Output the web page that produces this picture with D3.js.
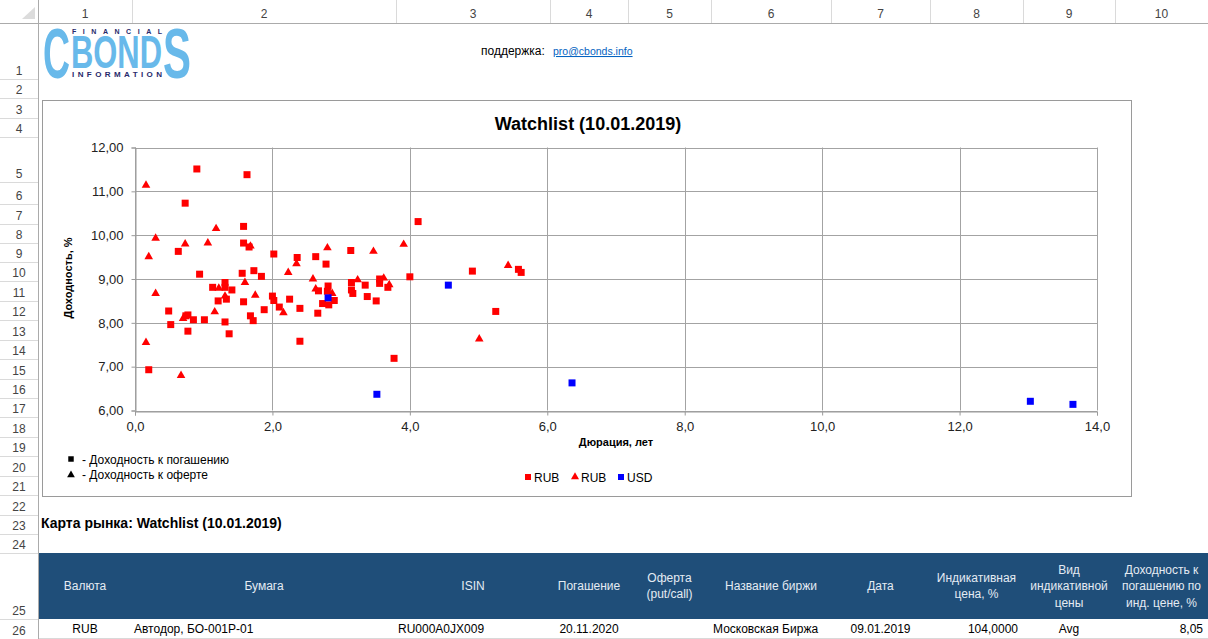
<!DOCTYPE html>
<html>
<head>
<meta charset="utf-8">
<script src="https://cdn.jsdelivr.net/npm/d3@7"></script>
<style>
  body { margin: 0; background: #fff; }
  svg text { font-family: "Liberation Sans", Arial, sans-serif; }
</style>
</head>
<body>
<script>
// chart data: [duration, yield]
var rubMaturity = [
  [0.90, 11.51], [1.63, 11.38], [0.73, 10.73], [1.58, 10.20], [1.58, 9.82],
  [1.66, 9.73], [0.63, 9.63], [2.02, 9.57], [2.36, 9.49], [2.63, 9.51],
  [2.78, 9.34], [0.94, 9.11], [1.56, 9.13], [1.73, 9.19], [1.84, 9.06],
  [1.13, 8.81], [1.31, 8.92], [1.31, 8.81], [1.41, 8.75], [1.21, 8.50],
  [1.33, 8.54], [1.58, 8.48], [2.00, 8.61], [2.02, 8.51], [2.10, 8.36],
  [2.25, 8.54], [2.40, 8.33], [1.88, 8.30], [1.68, 8.16], [1.72, 8.05],
  [2.67, 8.73], [2.81, 8.84], [2.80, 8.72], [2.90, 8.51], [2.73, 8.44],
  [2.82, 8.41], [2.66, 8.22], [0.49, 8.27], [0.52, 7.96], [0.74, 8.16],
  [0.77, 8.18], [0.85, 8.07], [1.01, 8.07], [0.77, 7.81], [1.31, 8.02],
  [1.37, 7.75], [0.20, 6.93], [2.40, 7.58], [3.14, 9.65], [4.12, 10.31],
  [4.91, 9.18], [5.58, 9.22], [5.62, 9.15], [4.00, 9.05], [3.15, 8.92],
  [3.56, 9.00], [3.56, 8.90], [3.35, 8.86], [3.68, 8.81], [3.15, 8.75],
  [3.17, 8.67], [3.38, 8.60], [3.51, 8.50], [3.77, 7.19], [5.25, 8.26]
];
var rubOffer = [
  [0.16, 11.14], [1.18, 10.15], [0.30, 9.93], [0.73, 9.80], [1.06, 9.82],
  [1.68, 9.75], [0.20, 9.51], [2.35, 9.35], [2.80, 9.71], [2.23, 9.15],
  [2.59, 9.00], [0.30, 8.67], [1.22, 8.79], [1.60, 8.92], [1.31, 8.61],
  [1.75, 8.63], [2.16, 8.23], [2.63, 8.77], [2.87, 8.67], [1.16, 8.25],
  [0.70, 8.10], [0.16, 7.55], [0.67, 6.80], [3.47, 9.63], [3.91, 9.79],
  [5.43, 9.31], [3.24, 8.98], [3.62, 9.02], [3.70, 8.87], [5.01, 7.63]
];
var usdMaturity = [
  [2.81, 8.57], [4.56, 8.86], [3.52, 6.37], [6.36, 6.63], [13.03, 6.21], [13.65, 6.14]
];
var xTicks = [0, 2, 4, 6, 8, 10, 12, 14];
var yTicks = [6, 7, 8, 9, 10, 11, 12];

// sheet data
var colLabels = ["1", "2", "3", "4", "5", "6", "7", "8", "9", "10"];
var rowLabels = ["1", "2", "3", "4", "5", "6", "7", "8", "9", "10", "11", "12", "13",
  "14", "15", "16", "17", "18", "19", "20", "21", "22", "23", "24", "25", "26"];
var tableHeaders = [
  ["Валюта"], ["Бумага"], ["ISIN"], ["Погашение"], ["Оферта", "(put/call)"],
  ["Название биржи"], ["Дата"], ["Индикативная", "цена, %"],
  ["Вид", "индикативной", "цены"], ["Доходность к", "погашению по", "инд. цене, %"]
];
var tableRow = ["RUB", "Автодор, БО-001Р-01", "RU000A0JX009", "20.11.2020", "",
  "Московская Биржа", "09.01.2019", "104,0000", "Avg", "8,05"];

// sheet layout
var colEdges = [38, 132, 396, 550, 628, 711, 831, 930, 1023, 1115, 1208];
var rowEdges = [23, 79, 98, 118, 137, 182, 204, 224, 243, 262, 281, 301, 320, 340,
  359, 379, 398, 417, 437, 456, 476, 495, 515, 534, 553, 619, 639];
var rowAlign = ["middle", "start", "start", "middle", "middle", "start", "middle", "end", "middle", "end"];

var svg = d3.select("body").append("svg")
    .attr("width", 1208)
    .attr("height", 639);

// column header strip
svg.append("rect").attr("x", 0).attr("y", 0).attr("width", 1208).attr("height", 23).attr("fill", "#fff");
svg.append("path").attr("d", "M22,19 L35,19 L35,7 Z").attr("fill", "#dcdcdc");
svg.selectAll(".colSep")
    .data(colEdges)
    .enter()
    .append("line")
    .attr("x1", function(d){ return d + 0.5; })
    .attr("x2", function(d){ return d + 0.5; })
    .attr("y1", 0)
    .attr("y2", 23)
    .attr("stroke", "#dadada");
svg.selectAll(".colLabel")
    .data(colLabels)
    .enter()
    .append("text")
    .attr("x", function(d, i){ return (colEdges[i] + colEdges[i + 1]) / 2; })
    .attr("y", 18)
    .attr("text-anchor", "middle")
    .style("font-size", "12px")
    .style("fill", "#444")
    .text(function(d){ return d; });
svg.append("line").attr("x1", 0).attr("x2", 1208).attr("y1", 23.5).attr("y2", 23.5).attr("stroke", "#ababab");

// row header strip
svg.selectAll(".rowSep")
    .data(rowEdges.slice(1))
    .enter()
    .append("line")
    .attr("x1", 0)
    .attr("x2", 38)
    .attr("y1", function(d){ return d + 0.5; })
    .attr("y2", function(d){ return d + 0.5; })
    .attr("stroke", "#dadada");
svg.selectAll(".rowLabel")
    .data(rowLabels)
    .enter()
    .append("text")
    .attr("x", 19)
    .attr("y", function(d, i){ return rowEdges[i + 1] - 4; })
    .attr("text-anchor", "middle")
    .style("font-size", "12px")
    .style("fill", "#444")
    .text(function(d){ return d; });
svg.append("line").attr("x1", 38.5).attr("x2", 38.5).attr("y1", 0).attr("y2", 639).attr("stroke", "#ababab");

// logo: one text element, the small words sit inside the big letters
var logoBlue = "#68b9ea", logoNavy = "#27296b";
var logo = svg.append("text").style("font-weight", "bold");
[
  { t: "C", x: 43, y: 78, size: 71, len: 27, fill: logoBlue, adj: "spacingAndGlyphs" },
  { t: "BOND", x: 71, y: 68, size: 46, len: 91, fill: logoBlue, adj: "spacingAndGlyphs" },
  { t: "S", x: 163, y: 78, size: 71, len: 28, fill: logoBlue, adj: "spacingAndGlyphs" },
  { t: "FINANCIAL", x: 72, y: 33.5, size: 7, len: 90, fill: logoNavy, adj: "spacing" },
  { t: "INFORMATION", x: 72, y: 77, size: 8, len: 90, fill: logoNavy, adj: "spacing" }
].forEach(function(p){
  logo.append("tspan")
      .attr("x", p.x).attr("y", p.y)
      .attr("textLength", p.len).attr("lengthAdjust", p.adj)
      .style("font-size", p.size + "px")
      .style("fill", p.fill)
      .text(p.t);
});

// support line
svg.append("text").attr("x", 481).attr("y", 55).style("font-size", "12px").style("fill", "#000").text("поддержка:");
svg.append("text").attr("x", 553).attr("y", 55).style("font-size", "10.5px").style("fill", "#0563c1")
    .style("text-decoration", "underline").text("pro@cbonds.info");

// chart frame
svg.append("rect")
    .attr("x", 42.5).attr("y", 100.5).attr("width", 1089).attr("height", 396)
    .attr("fill", "#fff").attr("stroke", "#9a9a9a");

var locale = d3.formatLocale({ decimal: ",", thousands: " ", grouping: [3], currency: ["", ""] });

var x = d3.scaleLinear()
    .domain([0, 14])
    .range([135, 1097]);

var y = d3.scaleLinear()
    .domain([6, 12])
    .range([410.5, 147.5]);

// gridlines
svg.selectAll(".hgrid")
    .data(yTicks)
    .enter()
    .append("line")
    .attr("x1", x(0)).attr("x2", x(14))
    .attr("y1", function(d){ return Math.round(y(d)) + 0.5; })
    .attr("y2", function(d){ return Math.round(y(d)) + 0.5; })
    .attr("stroke", "#a3a3a3");
svg.selectAll(".vgrid")
    .data(xTicks)
    .enter()
    .append("line")
    .attr("x1", function(d){ return Math.round(x(d)) + 0.5; })
    .attr("x2", function(d){ return Math.round(x(d)) + 0.5; })
    .attr("y1", y(12)).attr("y2", y(6))
    .attr("stroke", "#a3a3a3");

var yAxis = d3.axisLeft(y).tickValues(yTicks).tickSize(4).tickPadding(8).tickFormat(locale.format(".2f"));
var xAxis = d3.axisBottom(x).tickValues(xTicks).tickSize(4).tickPadding(6).tickFormat(locale.format(".1f"));

var gy = svg.append("g").attr("transform", "translate(" + (Math.round(x(0)) + 0.5) + ",0)").call(yAxis);
var gx = svg.append("g").attr("transform", "translate(0," + (Math.round(y(6)) + 0.5) + ")").call(xAxis);
[gy, gx].forEach(function(g){
  g.select(".domain").attr("stroke", "#9a9a9a");
  g.selectAll(".tick line").attr("stroke", "#9a9a9a");
  g.selectAll(".tick text").style("font-size", "13px").style("fill", "#222")
    .style("font-family", "'Liberation Sans', Arial, sans-serif");
});

// titles
svg.append("text").attr("x", 588).attr("y", 130).attr("text-anchor", "middle")
    .style("font-size", "18px").style("font-weight", "bold").text("Watchlist (10.01.2019)");
svg.append("text").attr("transform", "translate(72,278) rotate(-90)").attr("text-anchor", "middle")
    .style("font-size", "11px").style("font-weight", "bold").text("Доходность, %");
svg.append("text").attr("x", 616).attr("y", 446).attr("text-anchor", "middle")
    .style("font-size", "11px").style("font-weight", "bold").text("Дюрация, лет");

// markers
var sq = d3.symbol().type(d3.symbolSquare).size(49);
var tri = d3.symbol().type(d3.symbolTriangle).size(32);

svg.selectAll(".rubSq")
    .data(rubMaturity)
    .enter()
    .append("path")
    .attr("d", sq)
    .attr("transform", function(d){ return "translate(" + x(d[0]) + "," + y(d[1]) + ")"; })
    .style("fill", "#ff0000");
svg.selectAll(".rubTri")
    .data(rubOffer)
    .enter()
    .append("path")
    .attr("d", tri)
    .attr("transform", function(d){ return "translate(" + x(d[0]) + "," + y(d[1]) + ")"; })
    .style("fill", "#ff0000");
svg.selectAll(".usdSq")
    .data(usdMaturity)
    .enter()
    .append("path")
    .attr("d", sq)
    .attr("transform", function(d){ return "translate(" + x(d[0]) + "," + y(d[1]) + ")"; })
    .style("fill", "#0000ff");

// marker type legend
svg.append("path").attr("d", d3.symbol().type(d3.symbolSquare).size(30)).attr("transform", "translate(71,459)").style("fill", "#000");
svg.append("text").attr("x", 82).attr("y", 464).style("font-size", "12px").text("- Доходность к погашению");
svg.append("path").attr("d", d3.symbol().type(d3.symbolTriangle).size(26)).attr("transform", "translate(71,475)").style("fill", "#000");
svg.append("text").attr("x", 82).attr("y", 479).style("font-size", "12px").text("- Доходность к оферте");

// series legend
var legendItems = [
  { shape: d3.symbolSquare, size: 36, color: "#ff0000", label: "RUB", x: 528 },
  { shape: d3.symbolTriangle, size: 28, color: "#ff0000", label: "RUB", x: 575 },
  { shape: d3.symbolSquare, size: 36, color: "#0000ff", label: "USD", x: 621 }
];
legendItems.forEach(function(d){
  svg.append("path").attr("d", d3.symbol().type(d.shape).size(d.size))
      .attr("transform", "translate(" + d.x + ",477)").style("fill", d.color);
  svg.append("text").attr("x", d.x + 6).attr("y", 482).style("font-size", "12px").text(d.label);
});

// market map title
svg.append("text").attr("x", 41).attr("y", 528).style("font-size", "14px").style("font-weight", "bold")
    .text("Карта рынка: Watchlist (10.01.2019)");

// table header band
svg.append("rect").attr("x", 39).attr("y", 553).attr("width", 1169).attr("height", 66).attr("fill", "#1f4e79");
tableHeaders.forEach(function(lines, i){
  var cx = (colEdges[i] + colEdges[i + 1]) / 2;
  var t = svg.append("text").attr("text-anchor", "middle").style("font-size", "12px").style("fill", "#e4ebf3");
  lines.forEach(function(line, j){
    t.append("tspan")
      .attr("x", cx)
      .attr("y", 590 + (j - (lines.length - 1) / 2) * 16.5)
      .text(line);
  });
});

// table row
tableRow.forEach(function(val, i){
  var a = rowAlign[i];
  var tx = a === "start" ? colEdges[i] + 2 : a === "end" ? colEdges[i + 1] - 5 : (colEdges[i] + colEdges[i + 1]) / 2;
  svg.append("text").attr("x", tx).attr("y", 633).attr("text-anchor", a)
      .style("font-size", "12px").style("fill", "#000").text(val);
});
svg.append("line").attr("x1", 39).attr("x2", 1208).attr("y1", 638.5).attr("y2", 638.5).attr("stroke", "#d9d9d9");
</script>
</body>
</html>
